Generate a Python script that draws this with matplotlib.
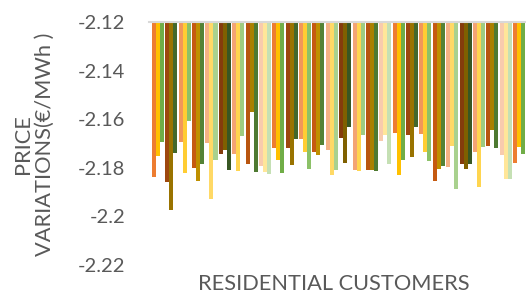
import matplotlib
matplotlib.use("Agg")
import matplotlib.pyplot as plt
import numpy as np

# Price variation of each residential customer (€/MWh)
values = [
    -2.1839, -2.1751, -2.1694,
    -2.1858, -2.1974, -2.1739,
    -2.1694, -2.1821, -2.1607,
    -2.1801, -2.1854, -2.1784,
    -2.1698, -2.1929, -2.1768,
    -2.1743, -2.1727, -2.1809,
    -2.1743, -2.1813, -2.1669,
    -2.1784, -2.1570, -2.1817,
    -2.1793, -2.1817, -2.1825,
    -2.1718, -2.1768, -2.1821,
    -2.1718, -2.1788, -2.1681,
    -2.1681, -2.1735, -2.1805,
    -2.1735, -2.1747, -2.1706,
    -2.1727, -2.1830, -2.1809,
    -2.1677, -2.1780, -2.1632,
    -2.1809, -2.1813, -2.1665,
    -2.1809, -2.1809, -2.1813,
    -2.1689, -2.1665, -2.1784,
    -2.1656, -2.1830, -2.1768,
    -2.1665, -2.1755, -2.1632,
    -2.1661, -2.1735, -2.1772,
    -2.1854, -2.1805, -2.1793,
    -2.1797, -2.1710, -2.1887,
    -2.1784, -2.1805, -2.1784,
    -2.1735, -2.1879, -2.1714,
    -2.1710, -2.1644, -2.1718,
    -2.1747, -2.1846, -2.1846,
    -2.1780, -2.1714, -2.1743,
]
yticks = [-2.22, -2.2, -2.18, -2.16, -2.14, -2.12]
ytick_labels = ["-2.22", "-2.2", "-2.18", "-2.16", "-2.14", "-2.12"]
axis_cross = -2.12

palette = [
    '#ED7D31', '#FFC000', '#70AD47',
    '#9E480E', '#997300', '#43682B',
    '#F1975A', '#FFCD33', '#8CC168',
    '#C55A11', '#BF9000', '#548235',
    '#F4B183', '#FFD966', '#A9D18E',
    '#843C0C', '#7F6000', '#385723',
    '#F3A474', '#FFD54F', '#9FCB80',
    '#B9550F', '#A98000', '#4E7A31',
    '#F8CBAD', '#FFE699', '#C5E0B4',
]

fig = plt.figure(figsize=(5.26, 2.98), dpi=100)
ax = fig.add_axes([149/526, 1-265/298, 377/526, (265-22)/298])

bw = 0.3
for i, v in enumerate(values):
    g, k = divmod(i, 3)
    x = g + (k - 1) * bw
    ax.bar(x, v - axis_cross, bottom=axis_cross, width=bw,
           color=palette[i % len(palette)], linewidth=0)

ax.set_ylim(-2.22, -2.12)
ax.set_xlim(-0.673, 27.52)
ax.set_yticks(yticks)
ax.set_yticklabels(ytick_labels)
ax.set_xticks([])
for s in ['left', 'right', 'bottom']:
    ax.spines[s].set_visible(False)
ax.spines['top'].set_color('#D9D9D9')
ax.spines['top'].set_linewidth(1.5)
ax.tick_params(axis='y', length=0, pad=17, labelsize=14.5, labelcolor='#595959')
for lbl in ax.get_yticklabels():
    lbl.set_fontfamily('Lato')

fig.text(334/526, 1-284/298, "RESIDENTIAL CUSTOMERS", ha='center', va='center',
         fontsize=15.7, color='#595959', family='Lato')
fig.text(34/526, 1-144/298, "PRICE\nVARIATIONS(€/MWh )", ha='center', va='center',
         rotation=90, fontsize=15.7, color='#595959', family='Lato',
         multialignment='center', linespacing=1.1)

fig.savefig("out.png", dpi=100)
